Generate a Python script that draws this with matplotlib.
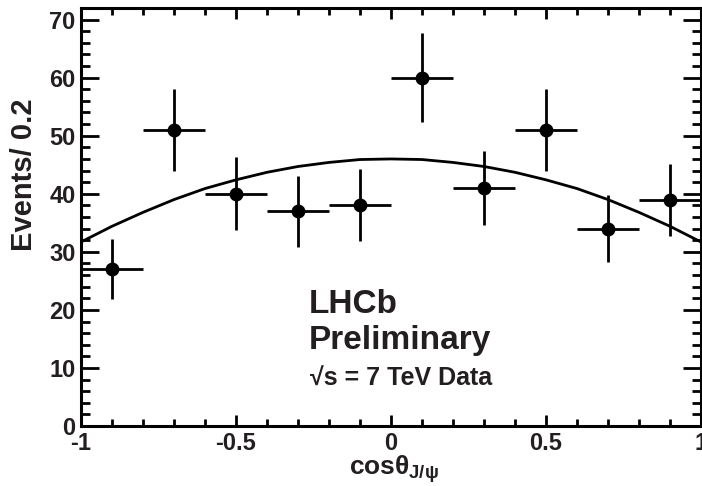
import numpy as np
import matplotlib
matplotlib.use("Agg")
import matplotlib.pyplot as plt
from matplotlib.ticker import MultipleLocator

plt.rcParams["font.family"] = ["Liberation Sans", "DejaVu Sans"]
plt.rcParams["font.weight"] = "bold"
plt.rcParams["mathtext.fontset"] = "custom"
plt.rcParams["mathtext.rm"] = "Liberation Sans:bold"
plt.rcParams["mathtext.it"] = "Liberation Sans:bold"
plt.rcParams["mathtext.bf"] = "Liberation Sans:bold"
plt.rcParams["mathtext.sf"] = "Liberation Sans:bold"

# binned data, cos(theta_J/psi), bin width 0.2
bin_centers = [-0.9, -0.7, -0.5, -0.3, -0.1, 0.1, 0.3, 0.5, 0.7, 0.9]
events = [27, 51, 40, 37, 38, 60, 41, 51, 34, 39]
event_err = [5.2, 7.1, 6.3, 6.1, 6.2, 7.7, 6.4, 7.1, 5.8, 6.2]
bin_halfwidth = 0.1

# fit curve
fit_x = [-1.0, -0.9, -0.8, -0.7, -0.6, -0.5, -0.4, -0.3, -0.2, -0.1, 0.0,
         0.1, 0.2, 0.3, 0.4, 0.5, 0.6, 0.7, 0.8, 0.9, 1.0]
fit_y = [31.7, 34.4, 36.8, 39.0, 40.9, 42.4, 43.7, 44.7, 45.4, 45.9, 46.0,
         45.9, 45.4, 44.7, 43.7, 42.4, 40.9, 39.0, 36.8, 34.4, 31.7]

fig = plt.figure(figsize=(7.02, 4.86), dpi=100)
ax = fig.add_axes([81 / 702, 60 / 486, 620 / 702, 418 / 486])

ax.plot(fit_x, fit_y, color="black", lw=2.0)
ax.errorbar(bin_centers, events, xerr=bin_halfwidth, yerr=event_err,
            fmt="o", color="black", ms=9, elinewidth=2.0, capsize=0)

ax.set_xlim(-1, 1)
ax.set_ylim(0, 72)
ax.xaxis.set_major_locator(MultipleLocator(0.5))
ax.xaxis.set_minor_locator(MultipleLocator(0.1))
ax.yaxis.set_major_locator(MultipleLocator(10))
ax.yaxis.set_minor_locator(MultipleLocator(2))
ax.set_xticks([-1, -0.5, 0, 0.5, 1])
ax.set_xticklabels(["-1", "-0.5", "0", "0.5", "1"])

ax.tick_params(which="both", direction="in", top=True, right=True,
               labelsize=17, width=2.0, pad=4, labelcolor="#231f20")
ax.tick_params(axis="x", which="major", length=8)
ax.tick_params(axis="x", which="minor", length=5)
ax.tick_params(axis="y", which="major", length=13)
ax.tick_params(axis="y", which="minor", length=6.5)
for lab in ax.get_xticklabels() + ax.get_yticklabels():
    lab.set_fontweight("bold")
for sp in ax.spines.values():
    sp.set_linewidth(2.2)

ax.set_ylabel("Events/ 0.2", fontsize=21, fontweight="bold", color="#231f20")
ax.yaxis.set_label_coords(-0.069, 0.60)
ax.set_xlabel(r"cos$\theta_{J/\psi}$", fontsize=19, fontweight="bold",
              color="#231f20")
ax.xaxis.set_label_coords(0.505, -0.066)

ax.text(0.367, 0.270, "LHCb", transform=ax.transAxes, fontsize=24,
        fontweight="bold", color="#231f20", va="baseline")
ax.text(0.367, 0.184, "Preliminary", transform=ax.transAxes, fontsize=24,
        fontweight="bold", color="#231f20", va="baseline")
ax.text(0.369, 0.096, "\u221as = 7 TeV Data", transform=ax.transAxes,
        fontsize=18, fontweight="bold", color="#231f20", va="baseline")

fig.savefig("out.png", dpi=100)
